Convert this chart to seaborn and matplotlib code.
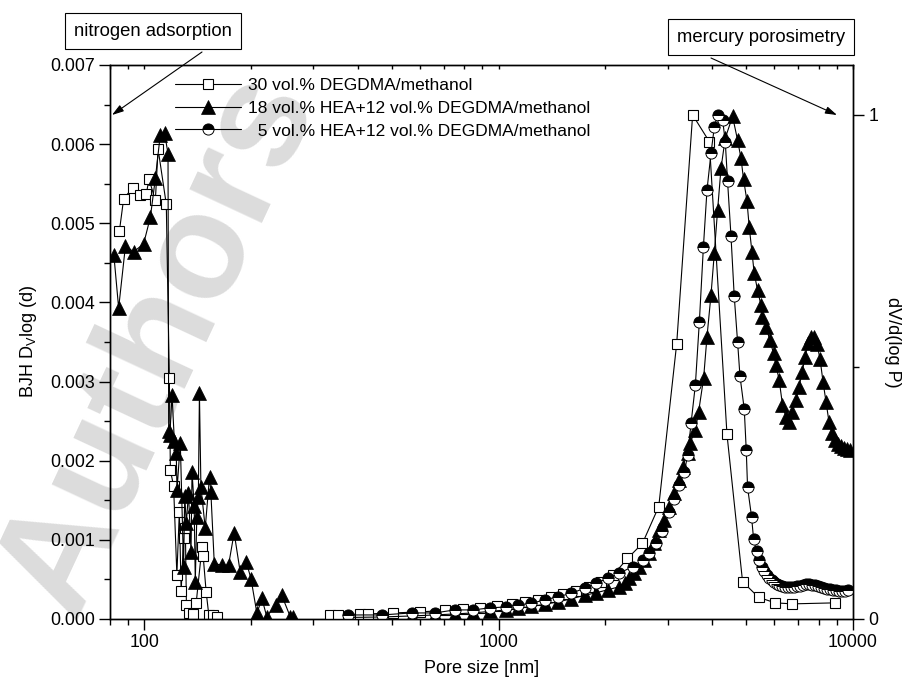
import seaborn as sns
import matplotlib.pyplot as plt
import matplotlib.ticker as mticker

# nitrogen adsorption (left axis)
n2_sq_size = [85.0, 87.4, 92.7, 97.4, 101.3, 103.0, 107.4, 109.3, 115.3, 117.6, 118.4, 120.9,
              123.5, 125.5, 127.0, 129.0, 130.5, 131.4, 133.5, 137.5, 140.0, 145.4, 146.5,
              149.4, 152.0, 156.5, 160.0]
n2_sq_dv = [0.00490, 0.00531, 0.00545, 0.00536, 0.00537, 0.00556, 0.00529, 0.00594, 0.00524,
            0.00305, 0.00188, 0.00168, 0.00056, 0.00135, 0.00035, 0.00102, 0.00115, 0.00018,
            0.00008, 0.00006, 0.00020, 0.00091, 0.00080, 0.00034, 0.00005, 0.00005, 0.00003]

n2_tri_size = [82.0, 84.6, 88.4, 93.3, 99.5, 104.0, 107.4, 110.9, 114.0, 116.6, 117.1, 118.0,
               119.7, 121.5, 123.0, 123.6, 126.3, 129.0, 130.0, 131.3, 133.2, 135.4, 136.3,
               138.2, 139.2, 140.6, 142.0, 143.0, 144.4, 148.5, 152.7, 154.0, 157.5, 165.5,
               172.8, 179.2, 186.3, 193.9, 199.9, 207.8, 214.6, 221.5, 235.3, 244.1, 258.0, 263.0]
n2_tri_dv = [0.00460, 0.00393, 0.00471, 0.00464, 0.00474, 0.00508, 0.00557, 0.00612, 0.00614,
             0.00588, 0.00237, 0.00233, 0.00283, 0.00225, 0.00210, 0.00163, 0.00222, 0.00066,
             0.00155, 0.00121, 0.00159, 0.00085, 0.00186, 0.00143, 0.00047, 0.00129, 0.00154,
             0.00285, 0.00167, 0.00115, 0.00180, 0.00161, 0.00070, 0.00068, 0.00068, 0.00109,
             0.00060, 0.00072, 0.00051, 0.00007, 0.00026, 0.00003, 0.00018, 0.00030, 0.00003,
             0.00003]

# mercury porosimetry (right axis)
hg_sq_size = [334, 352, 406, 428, 503, 599, 705, 792, 884, 987, 1088, 1184, 1288, 1401, 1515,
              1648, 1793, 1939, 2108, 2309, 2545, 2829, 3179, 3526, 3930, 4408, 4878, 5411,
              6030, 6745, 8897]
hg_sq_dv = [0.008, 0.008, 0.010, 0.010, 0.012, 0.014, 0.017, 0.019, 0.022, 0.026, 0.030, 0.034,
            0.038, 0.043, 0.049, 0.056, 0.064, 0.074, 0.088, 0.120, 0.150, 0.223, 0.546, 1.000,
            0.947, 0.366, 0.074, 0.043, 0.032, 0.030, 0.032]

hg_tri_size = [375.5, 467.4, 567.7, 660.2, 751.6, 846.6, 943.2, 1051, 1134, 1237, 1348, 1469,
               1603, 1747, 1885, 2032, 2192, 2265, 2339, 2416, 2496, 2578, 2664, 2751, 2841,
               2935, 3031, 3131, 3220, 3305, 3414, 3467, 3589, 3666, 3787, 3871, 3973, 4060,
               4147, 4240, 4359, 4571, 4722, 4828, 4910, 5019, 5093, 5183, 5261, 5375, 5495,
               5552, 5676, 5826, 5964, 6058, 6188, 6322, 6463, 6603, 6745, 6896, 7045, 7183,
               7325, 7469, 7617, 7763, 7917, 8072, 8231, 8393, 8558, 8726, 8898, 9073, 9252,
               9433, 9619, 9807]
hg_tri_dv = [0.003, 0.004, 0.006, 0.008, 0.010, 0.012, 0.015, 0.018, 0.021, 0.025, 0.029, 0.034,
             0.040, 0.047, 0.052, 0.058, 0.064, 0.072, 0.082, 0.091, 0.104, 0.117, 0.130, 0.150,
             0.177, 0.196, 0.223, 0.249, 0.276, 0.302, 0.329, 0.349, 0.375, 0.411, 0.478, 0.560,
             0.643, 0.726, 0.811, 0.894, 0.954, 0.997, 0.950, 0.914, 0.872, 0.829, 0.778, 0.729,
             0.686, 0.653, 0.623, 0.600, 0.580, 0.553, 0.527, 0.504, 0.474, 0.425, 0.401, 0.390,
             0.411, 0.434, 0.461, 0.490, 0.520, 0.548, 0.560, 0.559, 0.545, 0.515, 0.470, 0.430,
             0.390, 0.368, 0.355, 0.348, 0.343, 0.340, 0.338, 0.336]

hg_semi_size = [375.5, 467.4, 567.7, 660.2, 751.6, 846.6, 943.2, 1051, 1134, 1237, 1348, 1469,
                1603, 1747, 1885, 2032, 2192, 2389, 2550, 2664, 2787, 2897, 3031, 3131, 3236,
                3342, 3414, 3490, 3589, 3684, 3781, 3871, 3973, 4060, 4147, 4285, 4359, 4425,
                4524, 4620, 4722, 4796, 4932, 4996, 5039, 5171, 5239, 5341, 5436, 5532, 5615,
                5706, 5801, 5894, 5991, 6088, 6188, 6310, 6434, 6560, 6691, 6822, 6955, 7092,
                7232, 7372, 7517, 7664, 7816, 7968, 8127, 8285, 8449, 8612, 8782, 8954, 9133,
                9311, 9495, 9680]
hg_semi_dv = [0.008, 0.008, 0.012, 0.012, 0.018, 0.018, 0.022, 0.024, 0.028, 0.031, 0.038, 0.044,
              0.051, 0.061, 0.071, 0.081, 0.091, 0.104, 0.117, 0.130, 0.150, 0.175, 0.213, 0.239,
              0.266, 0.292, 0.325, 0.388, 0.464, 0.590, 0.737, 0.851, 0.924, 0.976, 1.000, 0.990,
              0.947, 0.868, 0.760, 0.641, 0.550, 0.482, 0.416, 0.335, 0.261, 0.203, 0.159, 0.134,
              0.117, 0.104, 0.095, 0.088, 0.081, 0.077, 0.073, 0.069, 0.067, 0.065, 0.064, 0.063,
              0.063, 0.064, 0.065, 0.066, 0.068, 0.069, 0.069, 0.068, 0.067, 0.066, 0.064, 0.062,
              0.060, 0.059, 0.058, 0.057, 0.056, 0.056, 0.056, 0.057]

labels = ['30 vol.% DEGDMA/methanol',
          '18 vol.% HEA+12 vol.% DEGDMA/methanol',
          '  5 vol.% HEA+12 vol.% DEGDMA/methanol']

sns.set_style('ticks')
plt.rcParams['font.family'] = ['Liberation Sans', 'DejaVu Sans']
plt.rcParams['mathtext.default'] = 'regular'
plt.rcParams['axes.linewidth'] = 1.0
plt.rcParams['axes.edgecolor'] = 'black'
plt.rcParams['text.color'] = 'black'
plt.rcParams['axes.labelcolor'] = 'black'
plt.rcParams['xtick.color'] = 'black'
plt.rcParams['ytick.color'] = 'black'

fig = plt.figure(figsize=(9.14, 6.87), dpi=100)
ax = fig.add_axes([0.1204, 0.0990, 0.8129, 0.8064])
ax.patch.set_visible(False)
ax2 = ax.twinx()

sq_kw = dict(marker='s', markersize=7.5, markerfacecolor='white', markeredgecolor='black',
             markeredgewidth=0.8, color='black', linewidth=0.8)
tri_kw = dict(marker='^', markersize=10, markerfacecolor='black', markeredgecolor='black',
              markeredgewidth=0.5, color='black', linewidth=0.8)
semi_kw = dict(marker='o', markersize=8, fillstyle='top', markerfacecolor='black',
               markerfacecoloralt='white', markeredgecolor='black', markeredgewidth=0.7,
               color='black', linewidth=0.8)

sns.lineplot(x=n2_sq_size, y=n2_sq_dv, ax=ax, sort=False, estimator=None, **sq_kw)
sns.lineplot(x=n2_tri_size, y=n2_tri_dv, ax=ax, sort=False, estimator=None, **tri_kw)
sns.lineplot(x=hg_sq_size, y=hg_sq_dv, ax=ax2, sort=False, estimator=None, **sq_kw)
sns.lineplot(x=hg_tri_size, y=hg_tri_dv, ax=ax2, sort=False, estimator=None, **tri_kw)
sns.lineplot(x=hg_semi_size, y=hg_semi_dv, ax=ax2, sort=False, estimator=None, **semi_kw)

ax.set_xscale('log')
ax.set_xlim(80, 10000)
ax.set_ylim(0, 0.007)
ax2.set_ylim(0, 1.099)

ax.xaxis.set_major_locator(mticker.FixedLocator([100, 1000, 10000]))
ax.xaxis.set_major_formatter(mticker.FixedFormatter(['100', '1000', '10000']))
ax.xaxis.set_minor_locator(mticker.LogLocator(base=10, subs=range(2, 10)))
ax.xaxis.set_minor_formatter(mticker.NullFormatter())
ax.yaxis.set_major_locator(mticker.MultipleLocator(0.001))
ax.yaxis.set_minor_locator(mticker.MultipleLocator(0.0005))
ax.yaxis.set_major_formatter(mticker.FormatStrFormatter('%.3f'))
ax2.set_yticks([0, 1])
ax2.set_yticklabels(['0', '1'])
ax2.set_yticks([0.5], minor=True)

ax.tick_params(axis='both', which='major', direction='out', length=8, width=1,
               labelsize=12.8, pad=3)
ax.tick_params(axis='both', which='minor', direction='out', length=4, width=1)
ax.tick_params(axis='x', top=False)
ax.tick_params(axis='y', right=False)
ax2.xaxis.set_visible(True)
ax2.tick_params(axis='x', which='both', bottom=False, top=True, labelbottom=False,
                labeltop=False, direction='in', length=3, width=1)
ax2.tick_params(axis='y', which='major', direction='out', length=8, width=1,
                labelsize=12.8, pad=3)
ax2.tick_params(axis='y', which='minor', direction='out', length=4, width=1)

ax.set_xlabel('Pore size [nm]', fontsize=13, labelpad=6)
ax.set_ylabel('BJH D$_V$log (d)', fontsize=13, labelpad=8)
ax2.set_ylabel('dV/d(log P)', fontsize=13, rotation=270, labelpad=16)

leg = ax2.legend(ax2.lines[:3], labels, loc='upper left', bbox_to_anchor=(0.078, 0.99),
                 frameon=False, fontsize=12.5, handlelength=3.8, handletextpad=0.4,
                 labelspacing=0.45, borderaxespad=0, numpoints=1)

box = dict(boxstyle='square,pad=0.5', facecolor='white', edgecolor='black', linewidth=0.8)
fig.text(153 / 914, 1 - 31 / 687, 'nitrogen adsorption', ha='center', va='center',
         fontsize=13.3, bbox=box)
fig.text(761 / 914, 1 - 37 / 687, 'mercury porosimetry', ha='center', va='center',
         fontsize=13.3, bbox=box)
arrow = dict(arrowstyle='-|>,head_length=0.7,head_width=0.22', color='black', lw=0.8,
             shrinkA=0, shrinkB=0)
ax.annotate('', xy=(112 / 914, 1 - 115 / 687), xytext=(202 / 914, 1 - 52 / 687),
            xycoords='figure fraction', textcoords='figure fraction', arrowprops=arrow)
ax.annotate('', xy=(837 / 914, 1 - 115 / 687), xytext=(711 / 914, 1 - 58 / 687),
            xycoords='figure fraction', textcoords='figure fraction', arrowprops=arrow)

fig.text(0.175, 0.50, 'Authors', rotation=65, fontsize=108, fontweight='bold',
         color='#dcdcdc', ha='center', va='center', zorder=-1)

fig.savefig('out.png', dpi=100)
